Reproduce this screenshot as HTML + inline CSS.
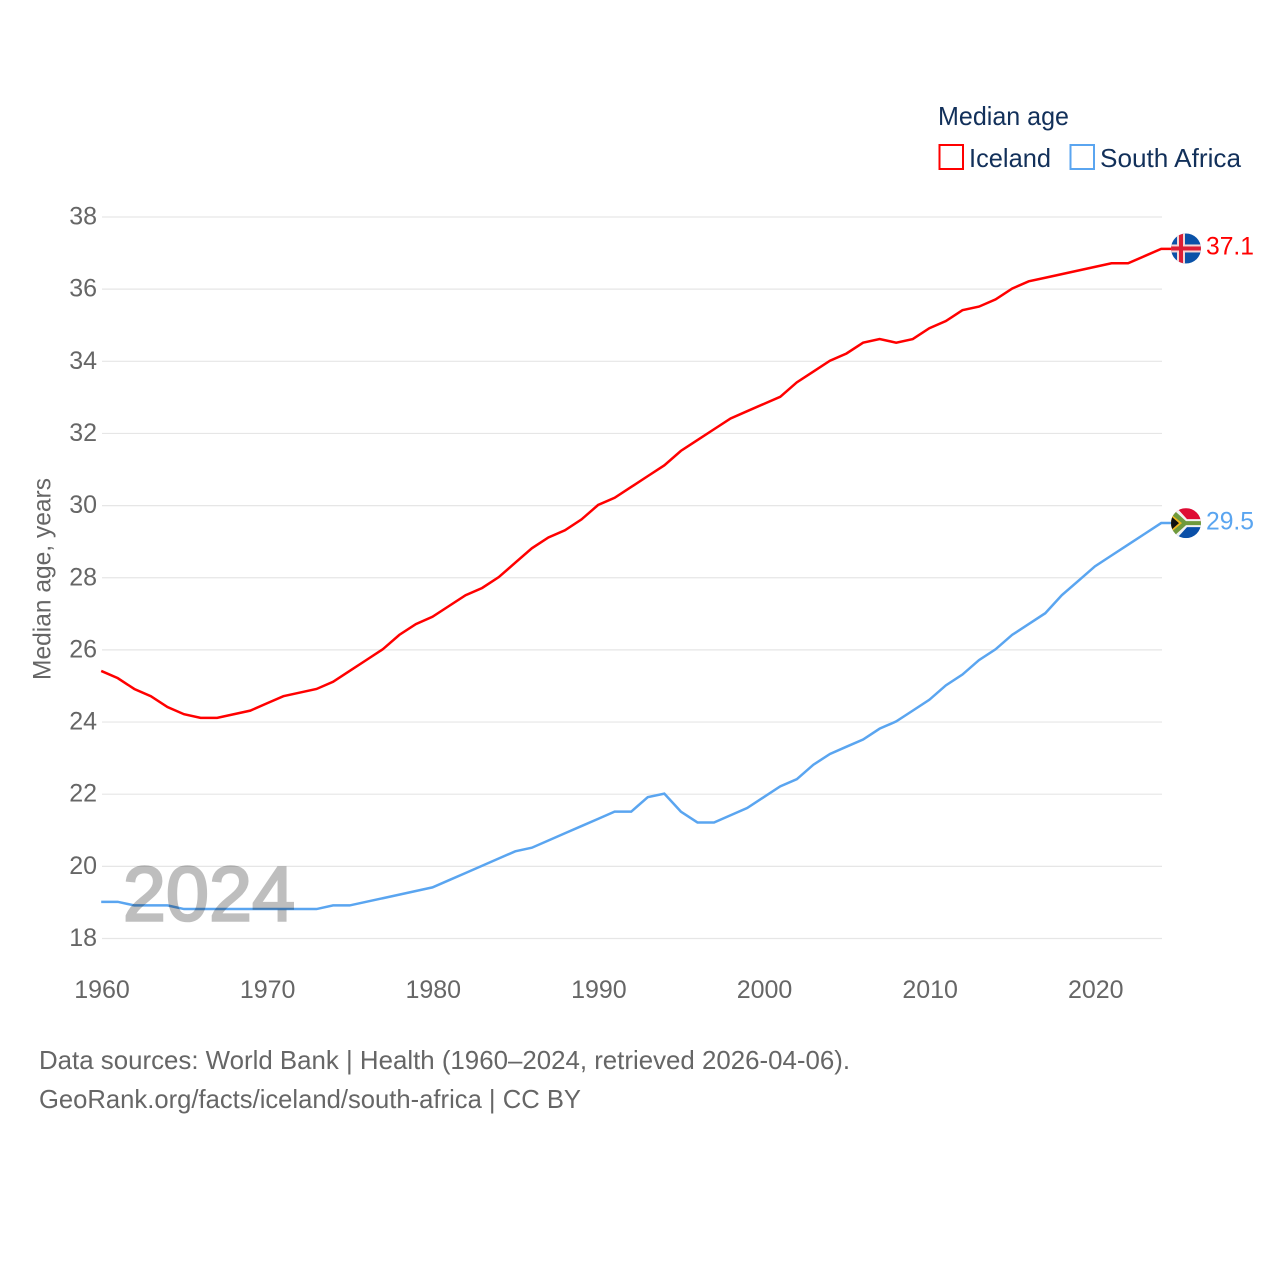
<!DOCTYPE html>
<html lang="en">
<head>
<meta charset="utf-8">
<title>Median age: Iceland and South Africa</title>
<style>
html,body{margin:0;padding:0;background:#fff;width:1280px;height:1280px;overflow:hidden}
svg{display:block}
text{font-family:"Liberation Sans",sans-serif}
.tick{font-size:25px;fill:#666}
.legend{font-size:26px;fill:#12305a}
.foot{font-size:26px;fill:#666}
</style>
</head>
<body>
<svg id="chart" xmlns="http://www.w3.org/2000/svg" width="1280" height="1280" viewBox="0 0 1280 1280">
  <defs>
    <clipPath id="flag-clip"><circle cx="0" cy="0" r="15"></circle></clipPath>
  </defs>
  <g id="grid"></g>
  <g id="y-ticks"></g>
  <g id="x-ticks"></g>
  <text class="tick" transform="translate(50.5,680) rotate(-90)" textLength="202" lengthAdjust="spacingAndGlyphs">Median age, years</text>
  <g id="series" transform="translate(-0.8,-0.6)"></g>
  <text x="123" y="920.5" font-size="77" fill="#000" stroke="#000" stroke-width="2.6" opacity="0.25" textLength="172" lengthAdjust="spacing">2024</text>

  <g id="flag-iceland">
    <g clip-path="url(#flag-clip)">
      <rect x="-15" y="-15" width="30" height="30" fill="#0a52a8"></rect>
      <rect x="-9" y="-15" width="8" height="30" fill="#f4d6d6"></rect>
      <rect x="-15" y="-4" width="30" height="8" fill="#f4d6d6"></rect>
      <rect x="-7" y="-15" width="4" height="30" fill="#dc1e35"></rect>
      <rect x="-15" y="-2" width="30" height="4" fill="#dc1e35"></rect>
    </g>
  </g>
  <g id="flag-south-africa">
    <g clip-path="url(#flag-clip)">
      <rect x="-15" y="-15" width="30" height="15" fill="#de0b34"></rect>
      <rect x="-15" y="0" width="30" height="15" fill="#0a4fa8"></rect>
      <polygon points="-15,-15 -9,-15 1,-4 15,-4 15,4 1,4 -9,15 -15,15" fill="#f2f2f2"></polygon>
      <polygon points="-15,-12 -11,-12 0,-2 15,-2 15,2 0,2 -11,12 -15,12" fill="#6f9a3c"></polygon>
      <polygon points="-15,-9 -4,0 -15,9" fill="#f0b820"></polygon>
      <polygon points="-15,-7 -7,0 -15,7" fill="#111"></polygon>
    </g>
  </g>
  <text id="value-iceland" x="1206" font-size="25" fill="#ff0000" textLength="48" lengthAdjust="spacingAndGlyphs"></text>
  <text id="value-south-africa" x="1206" font-size="25" fill="#5aa5f0" textLength="48" lengthAdjust="spacingAndGlyphs"></text>

  <g>
    <text class="legend" x="938" y="125" textLength="131" lengthAdjust="spacingAndGlyphs">Median age</text>
    <rect x="939.5" y="145" width="23.5" height="24" fill="#fff" stroke="#ff0000" stroke-width="2"></rect>
    <text class="legend" x="969" y="167" textLength="82" lengthAdjust="spacingAndGlyphs">Iceland</text>
    <rect x="1070.5" y="145" width="23.5" height="24" fill="#fff" stroke="#5aa5f0" stroke-width="2"></rect>
    <text class="legend" x="1100" y="167" textLength="141" lengthAdjust="spacingAndGlyphs">South Africa</text>
  </g>

  <text class="foot" x="39" y="1069" textLength="811" lengthAdjust="spacingAndGlyphs">Data sources: World Bank | Health (1960–2024, retrieved 2026-04-06).</text>
  <text class="foot" x="39" y="1108" textLength="542" lengthAdjust="spacingAndGlyphs">GeoRank.org/facts/iceland/south-africa | CC BY</text>
</svg>
<script>
const years = [1960,1961,1962,1963,1964,1965,1966,1967,1968,1969,1970,1971,1972,1973,1974,1975,1976,1977,1978,1979,1980,1981,1982,1983,1984,1985,1986,1987,1988,1989,1990,1991,1992,1993,1994,1995,1996,1997,1998,1999,2000,2001,2002,2003,2004,2005,2006,2007,2008,2009,2010,2011,2012,2013,2014,2015,2016,2017,2018,2019,2020,2021,2022,2023,2024];
const iceland = [25.4,25.2,24.9,24.7,24.4,24.2,24.1,24.1,24.2,24.3,24.5,24.7,24.8,24.9,25.1,25.4,25.7,26.0,26.4,26.7,26.9,27.2,27.5,27.7,28.0,28.4,28.8,29.1,29.3,29.6,30.0,30.2,30.5,30.8,31.1,31.5,31.8,32.1,32.4,32.6,32.8,33.0,33.4,33.7,34.0,34.2,34.5,34.6,34.5,34.6,34.9,35.1,35.4,35.5,35.7,36.0,36.2,36.3,36.4,36.5,36.6,36.7,36.7,36.9,37.1];
const southAfrica = [19.0,19.0,18.9,18.9,18.9,18.8,18.8,18.8,18.8,18.8,18.8,18.8,18.8,18.8,18.9,18.9,19.0,19.1,19.2,19.3,19.4,19.6,19.8,20.0,20.2,20.4,20.5,20.7,20.9,21.1,21.3,21.5,21.5,21.9,22.0,21.5,21.2,21.2,21.4,21.6,21.9,22.2,22.4,22.8,23.1,23.3,23.5,23.8,24.0,24.3,24.6,25.0,25.3,25.7,26.0,26.4,26.7,27.0,27.5,27.9,28.3,28.6,28.9,29.2,29.5];
const yTickValues = [18,20,22,24,26,28,30,32,34,36,38];
const xTickValues = [1960,1970,1980,1990,2000,2010,2020];

const NS = 'http://www.w3.org/2000/svg';
const xScale = function (year) { return 102 + (year - 1960) * (1060 / 64); };
const yScale = function (value) { return 938.5 - (value - 18) * (721.5 / 20); };

const grid = document.getElementById('grid');
const yTicks = document.getElementById('y-ticks');
const xTicks = document.getElementById('x-ticks');
const seriesGroup = document.getElementById('series');

yTickValues.forEach(function (value) {
  const line = document.createElementNS(NS, 'line');
  
  
  line.setAttribute('x1', 102);
  line.setAttribute('x2', 1162);
  line.setAttribute('y1', yScale(value));
  line.setAttribute('y2', yScale(value));
  line.setAttribute('stroke', '#e6e6e6');
  line.setAttribute('stroke-width', 1.2);
  grid.appendChild(line);

  const label = document.createElementNS(NS, 'text');
  
  
  label.setAttribute('class', 'tick');
  label.setAttribute('x', 97);
  label.setAttribute('y', yScale(value) + 7.5);
  label.setAttribute('text-anchor', 'end');
  label.textContent = String(value);
  yTicks.appendChild(label);
});

xTickValues.forEach(function (value) {
  const label = document.createElementNS(NS, 'text');
  
  
  label.setAttribute('class', 'tick');
  label.setAttribute('x', xScale(value));
  label.setAttribute('y', 998);
  label.setAttribute('text-anchor', 'middle');
  label.textContent = String(value);
  xTicks.appendChild(label);
});

function buildPoints(values) {
  const pts = values.map(function (value, i) {
    return xScale(years[i]).toFixed(2) + ',' + yScale(value).toFixed(2);
  });
  pts.push('1172,' + yScale(values[values.length - 1]).toFixed(2));
  return pts.join(' ');
}

const icelandLine = document.createElementNS(NS, 'polyline');


icelandLine.setAttribute('points', buildPoints(iceland));
icelandLine.setAttribute('fill', 'none');
icelandLine.setAttribute('stroke', '#ff0000');
icelandLine.setAttribute('stroke-width', 2.5);
seriesGroup.appendChild(icelandLine);

const southAfricaLine = document.createElementNS(NS, 'polyline');


southAfricaLine.setAttribute('points', buildPoints(southAfrica));
southAfricaLine.setAttribute('fill', 'none');
southAfricaLine.setAttribute('stroke', '#5aa5f0');
southAfricaLine.setAttribute('stroke-width', 2.5);
seriesGroup.appendChild(southAfricaLine);

const lastIceland = iceland[iceland.length - 1];
const lastSouthAfrica = southAfrica[southAfrica.length - 1];
document.getElementById('flag-iceland').setAttribute('transform', 'translate(1186,' + (yScale(lastIceland) - 1) + ')');
document.getElementById('flag-south-africa').setAttribute('transform', 'translate(1186,' + (yScale(lastSouthAfrica) - 0.5) + ')');
const valueIceland = document.getElementById('value-iceland');
valueIceland.setAttribute('y', yScale(lastIceland) + 5);
valueIceland.textContent = lastIceland.toFixed(1);
const valueSouthAfrica = document.getElementById('value-south-africa');
valueSouthAfrica.setAttribute('y', yScale(lastSouthAfrica) + 6);
valueSouthAfrica.textContent = lastSouthAfrica.toFixed(1);
</script>
</body>
</html>
